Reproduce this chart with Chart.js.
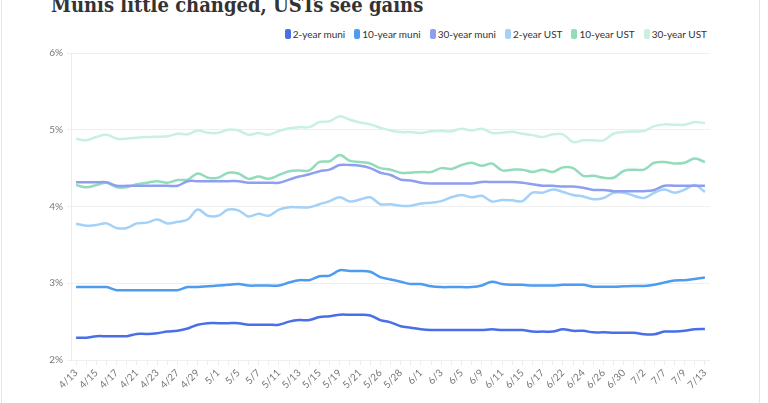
<!DOCTYPE html>
<html>
<head>
<meta charset="utf-8">
<script src="https://cdn.jsdelivr.net/npm/chart.js@4.4.1/dist/chart.umd.min.js"></script>
<style>
  html, body { margin: 0; padding: 0; background: #fff; width: 768px; height: 403px; overflow: hidden; }
  #frame { position: absolute; left: 1px; top: -2px; width: 759px; height: 410px; border: 1px solid #e4e4e4; box-sizing: border-box; }
  #title { position: absolute; left: 51px; top: -5px; font-family: 'DejaVu Serif Condensed', 'DejaVu Serif', serif; font-stretch: condensed; font-weight: bold; font-size: 20px; line-height: 20px; color: #333; white-space: nowrap; }
  #legend { position: absolute; right: 61px; top: 28px; display: flex; align-items: center; font-family: Lato, sans-serif; font-size: 10px; color: #333; white-space: nowrap; }
  .item { display: flex; align-items: center; margin-left: 9px; }
  .box { width: 6px; height: 10px; border-radius: 2px; margin-right: 2px; }
  #source { position: absolute; left: 50px; top: 400px; font-family: Lato, sans-serif; font-size: 11px; color: #555; }
  canvas { position: absolute; left: 0; top: 0; }
</style>
</head>
<body>
<div id="frame"></div>
<div id="title">Munis little changed, USTs see gains</div>
<div id="legend"></div>
<canvas id="c" width="768" height="403"></canvas>
<div id="source">Source: LSEG</div>
<script>
const dates = ["4/13","4/14","4/15","4/16","4/17","4/20","4/21","4/22","4/23","4/24","4/27","4/28","4/29","4/30",
  "5/1","5/4","5/5","5/6","5/7","5/8","5/11","5/12","5/13","5/14","5/15","5/18","5/19","5/20","5/21","5/22","5/26","5/27","5/28","5/29",
  "6/1","6/2","6/3","6/4","6/5","6/8","6/9","6/10","6/11","6/12","6/15","6/16","6/17","6/18","6/22","6/23","6/24","6/25","6/26","6/29","6/30",
  "7/1","7/2","7/6","7/7","7/8","7/9","7/10","7/13"];

const seriesNames = ["2-year muni","10-year muni","30-year muni","2-year UST","10-year UST","30-year UST"];

const twoYearMuni = [2.29,2.29,2.31,2.31,2.31,2.31,2.34,2.34,2.35,2.37,2.38,2.41,2.46,2.48,2.48,2.48,2.48,2.46,2.46,2.46,2.46,2.50,2.52,2.52,2.56,2.57,2.59,2.59,2.59,2.58,2.52,2.49,2.44,2.42,2.40,2.39,2.39,2.39,2.39,2.39,2.39,2.40,2.39,2.39,2.39,2.37,2.37,2.37,2.40,2.38,2.38,2.36,2.36,2.355,2.355,2.355,2.335,2.335,2.37,2.37,2.38,2.40,2.405];

const tenYearMuni = [2.95,2.95,2.95,2.95,2.91,2.91,2.91,2.91,2.91,2.91,2.91,2.95,2.95,2.96,2.97,2.98,2.99,2.97,2.97,2.97,2.97,3.01,3.04,3.04,3.09,3.10,3.17,3.16,3.16,3.15,3.08,3.05,3.02,2.99,2.99,2.96,2.95,2.95,2.95,2.95,2.97,3.02,2.99,2.98,2.98,2.97,2.97,2.97,2.98,2.98,2.98,2.955,2.955,2.955,2.96,2.965,2.965,2.98,3.01,3.035,3.04,3.055,3.075];

const thirtyYearMuni = [4.315,4.315,4.315,4.315,4.27,4.27,4.27,4.27,4.27,4.27,4.27,4.33,4.33,4.33,4.33,4.33,4.33,4.31,4.31,4.31,4.31,4.35,4.39,4.42,4.46,4.48,4.54,4.54,4.53,4.50,4.44,4.41,4.35,4.34,4.31,4.30,4.30,4.30,4.30,4.30,4.32,4.32,4.32,4.32,4.31,4.29,4.27,4.27,4.26,4.26,4.245,4.215,4.215,4.20,4.20,4.20,4.20,4.215,4.27,4.27,4.27,4.27,4.27];

const twoYearUST = [3.776,3.75,3.76,3.78,3.72,3.72,3.78,3.79,3.83,3.78,3.80,3.83,3.96,3.88,3.88,3.96,3.95,3.87,3.905,3.88,3.96,3.99,3.99,3.99,4.03,4.07,4.12,4.065,4.09,4.12,4.03,4.03,4.01,4.01,4.04,4.05,4.07,4.12,4.15,4.12,4.14,4.065,4.085,4.08,4.07,4.18,4.18,4.22,4.19,4.15,4.13,4.095,4.11,4.18,4.18,4.14,4.11,4.18,4.22,4.18,4.22,4.28,4.19];

const tenYearUST = [4.28,4.25,4.28,4.31,4.25,4.25,4.29,4.31,4.33,4.31,4.345,4.35,4.43,4.375,4.375,4.44,4.43,4.36,4.39,4.36,4.41,4.46,4.47,4.47,4.58,4.59,4.67,4.595,4.58,4.56,4.50,4.48,4.44,4.44,4.45,4.45,4.50,4.49,4.54,4.57,4.53,4.56,4.47,4.48,4.48,4.45,4.48,4.45,4.51,4.50,4.40,4.40,4.375,4.375,4.465,4.48,4.48,4.57,4.58,4.56,4.57,4.625,4.58];

const thirtyYearUST = [4.884,4.862,4.905,4.935,4.884,4.884,4.897,4.905,4.91,4.914,4.948,4.94,4.99,4.96,4.96,5.00,4.99,4.935,4.957,4.935,4.983,5.02,5.034,5.034,5.10,5.11,5.177,5.13,5.095,5.07,5.026,4.99,4.97,4.97,4.957,4.98,4.983,4.98,5.013,4.99,5.013,4.957,4.96,4.974,4.948,4.93,4.905,4.94,4.94,4.84,4.862,4.862,4.862,4.948,4.97,4.978,4.983,5.047,5.07,5.065,5.065,5.10,5.086];

const yTicks = [2, 3, 4, 5, 6];

const seriesValues = [twoYearMuni, tenYearMuni, thirtyYearMuni, twoYearUST, tenYearUST, thirtyYearUST];
const colors = ["#4a6ee8", "#4e9cf0", "#8e9ff0", "#a3d1f7", "#93dcbb", "#c9f1e2"];

const chart = new Chart(document.getElementById('c'), {
  type: 'line',
  data: {
    labels: dates,
    datasets: seriesNames.map((name, k) => ({
      label: name,
      data: seriesValues[k],
      borderColor: colors[k],
      backgroundColor: colors[k],
      borderWidth: 2.5,
      pointRadius: 0,
      tension: 0.35,
      fill: false
    }))
  },
  options: {
    responsive: false,
    animation: false,
    layout: { padding: { top: 53, right: 58, bottom: 0, left: 0 } },
    plugins: { legend: { display: false }, tooltip: { enabled: false }, title: { display: false } },
    scales: {
      x: {
        offset: true,
        grid: { display: true, drawOnChartArea: false, drawTicks: true, tickLength: 5, color: '#ececec' },
        border: { display: false },
        ticks: {
          autoSkip: false, maxRotation: 45, minRotation: 45,
          font: { family: 'Lato', size: 10 }, color: '#777', padding: 2,
          callback: (v, i) => (i % 2 === 0 ? dates[i] : '')
        },
        afterFit: s => { s.height = 43; }
      },
      y: {
        min: yTicks[0], max: yTicks[yTicks.length - 1],
        afterBuildTicks: s => { s.ticks = yTicks.map(v => ({ value: v })); },
        ticks: { callback: v => v + '%', font: { family: 'Lato', size: 10 }, color: '#777', padding: 4 },
        grid: { color: '#efefef', tickLength: 4 },
        border: { display: true, color: '#ececec' },
        afterFit: s => { s.width = 71; }
      }
    }
  }
});

const legend = document.getElementById('legend');
chart.data.datasets.forEach(ds => {
  const item = document.createElement('div');
  item.className = 'item';
  const box = document.createElement('span');
  box.className = 'box';
  box.style.background = ds.borderColor;
  const txt = document.createElement('span');
  txt.textContent = ds.label;
  item.appendChild(box);
  item.appendChild(txt);
  legend.appendChild(item);
});
</script>
</body>
</html>
